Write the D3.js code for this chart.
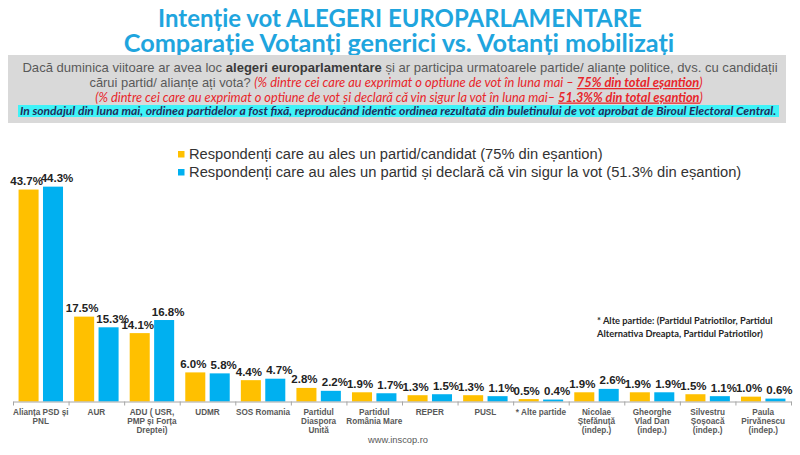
<!DOCTYPE html>
<html>
<head>
<meta charset="utf-8">
<script src="https://cdn.jsdelivr.net/npm/d3@7"></script>
<style>
  body { margin: 0; background: #fff; }
  svg { display: block; }
</style>
</head>
<body>
<svg id="chart"></svg>
<script>
const CONF = {
    width: 800,
    height: 455,
    left: 13,
    right: 791,
    baseline: 401.5,
    pxPerPct: 4.85,
}

// data
const categories = [
    ["Alianța PSD și", "PNL"],
    ["AUR"],
    ["ADU ( USR,", "PMP și Forța", "Dreptei)"],
    ["UDMR"],
    ["SOS Romania"],
    ["Partidul", "Diaspora", "Unită"],
    ["Partidul", "România Mare"],
    ["REPER"],
    ["PUSL"],
    ["* Alte partide"],
    ["Nicolae", "Ștefănuță", "(indep.)"],
    ["Gheorghe", "Vlad Dan", "(indep.)"],
    ["Silvestru", "Șoșoacă", "(indep.)"],
    ["Paula", "Pirvănescu", "(indep.)"],
]
const generic = [43.7, 17.5, 14.1, 6.0, 4.4, 2.8, 1.9, 1.3, 1.3, 0.5, 1.9, 1.9, 1.5, 1.0]
const mobilized = [44.3, 15.3, 16.8, 5.8, 4.7, 2.2, 1.7, 1.5, 1.1, 0.4, 2.6, 1.9, 1.1, 0.6]
const seriesNames = [
    "Respondenți care au ales un partid/candidat (75% din eșantion)",
    "Respondenți care au ales un partid și declară că vin sigur la vot (51.3% din eșantion)",
]
const seriesColors = ["#FFC000", "#00B0F0"]
const titleLines = [
    "Intenție vot ALEGERI EUROPARLAMENTARE",
    "Comparație Votanți generici vs. Votanți mobilizați",
]
const noteLines = [
    "* Alte partide: (Partidul Patriotilor, Partidul",
    "Alternativa Dreapta, Partidul Patriotilor)",
]

const svg = d3.select("svg#chart").attr("width", CONF.width).attr("height", CONF.height)

// shrink/grow font so the text fills a given width
function fit(sel, w) {
    let node = sel.node()
    let size = parseFloat(sel.attr("font-size"))
    let len = node.getComputedTextLength()
    sel.attr("font-size", size * w / len)
    return sel
}

// ---- titles
titleLines.forEach((t, i) => {
    let tt = svg.append("text")
        .attr("x", [400, 399][i]).attr("y", [27, 51.5][i])
        .attr("text-anchor", "middle")
        .attr("font-family", "Lato, 'Open Sans', sans-serif")
        .attr("font-weight", "bold")
        .attr("font-size", 21)
        .attr("fill", "#1FA5DE")
        .text(t)
    fit(tt, [484, 551][i])
})

// ---- grey question box
svg.append("rect").attr("x", 8).attr("y", 55).attr("width", 778).attr("height", 68).attr("fill", "#D9D9D9")
svg.append("rect").attr("x", 18).attr("y", 105).attr("width", 761).attr("height", 12).attr("fill", "#3FF3F8")

const arial = "'Liberation Sans', Arial, sans-serif"
const calibri = "Lato, 'Open Sans', sans-serif"
const red = "#E8262B"

let q1 = svg.append("text").attr("x", 400).attr("y", 72).attr("text-anchor", "middle")
    .attr("font-family", arial).attr("font-size", 11.5).attr("fill", "#595959")
q1.append("tspan").text("Dacă duminica  viitoare ar avea loc ")
q1.append("tspan").attr("font-weight", "bold").attr("fill", "#3a3a3a").text("alegeri europarlamentare")
q1.append("tspan").text(" și ar participa urmatoarele partide/ alianțe politice, dvs. cu candidații")
fit(q1, 756)

let q2 = svg.append("text").attr("x", 396).attr("y", 87).attr("text-anchor", "middle")
    .attr("font-size", 11.5).attr("fill", red)
q2.append("tspan").attr("font-family", arial).attr("fill", "#595959").text("cărui partid/ alianțe ați vota? ")
q2.append("tspan").attr("font-family", calibri).attr("font-style", "italic")
    .text("(% dintre cei care au exprimat o optiune de vot în luna mai – ")
q2.append("tspan").attr("font-family", calibri).attr("font-style", "italic").attr("font-weight", "bold")
    .attr("text-decoration", "underline").text("75% din total eșantion")
q2.append("tspan").attr("font-family", calibri).attr("font-style", "italic").text(")")
fit(q2, 614)

let q3 = svg.append("text").attr("x", 399).attr("y", 101.5).attr("text-anchor", "middle")
    .attr("font-family", calibri).attr("font-style", "italic").attr("font-size", 11.5).attr("fill", red)
q3.append("tspan").text("(% dintre cei care au exprimat o optiune de vot și declară că vin sigur la vot în luna mai– ")
q3.append("tspan").attr("font-weight", "bold").attr("text-decoration", "underline").text("51.3%% din total eșantion")
q3.append("tspan").text(")")
fit(q3, 608)

let q4 = svg.append("text").attr("x", 398).attr("y", 115).attr("text-anchor", "middle")
    .attr("font-family", calibri).attr("font-style", "italic").attr("font-weight", "bold")
    .attr("font-size", 11).attr("fill", "#1F2F5C")
    .text("In sondajul din luna mai, ordinea partidelor a fost fixă, reproducând identic ordinea rezultată din buletinului de vot aprobat de Biroul Electoral Central.")
fit(q4, 757)

// ---- legend
seriesNames.forEach((name, i) => {
    let ly = [159, 177][i]
    svg.append("rect").attr("x", 178).attr("y", ly - 8).attr("width", 6.5).attr("height", 6.5)
        .attr("fill", seriesColors[i])
    let lt = svg.append("text").attr("x", 189).attr("y", ly)
        .attr("font-family", arial).attr("font-size", 13.5).attr("fill", "#333")
        .text(name)
    fit(lt, [414, 553][i])
})

// ---- scales
const idx = d3.range(categories.length)
const x = d3.scaleBand().domain(idx).range([CONF.left, CONF.right]).paddingInner(0.2).paddingOuter(0.1)
const xSub = d3.scaleBand().domain([0, 1]).range([0, x.bandwidth()]).paddingInner(0.18)
const y = d3.scaleLinear().domain([0, 45]).range([CONF.baseline, CONF.baseline - 45 * CONF.pxPerPct])
const xEdges = d3.scaleLinear().domain([0, categories.length]).range([CONF.left, CONF.right])

const series = [generic, mobilized]
const labelShift = [-2, 4]

let groups = svg.append("g").selectAll("g")
    .data(series)
    .join("g")
    .attr("fill", (_, s) => seriesColors[s])

groups.selectAll("rect")
    .data((d, s) => d.map((v, i) => ({ v, i, s })))
    .join("rect")
    .attr("x", d => x(d.i) + xSub(d.s))
    .attr("y", d => y(d.v))
    .attr("width", xSub.bandwidth())
    .attr("height", d => y(0) - y(d.v))

// value labels
svg.append("g").selectAll("text")
    .data(series.flatMap((d, s) => d.map((v, i) => ({ v, i, s }))))
    .join("text")
    .attr("x", d => x(d.i) + xSub(d.s) + xSub.bandwidth() / 2 + labelShift[d.s])
    .attr("y", d => y(d.v) - 4.5)
    .attr("text-anchor", "middle")
    .attr("font-family", arial)
    .attr("font-weight", "bold")
    .attr("font-size", 11.5)
    .attr("fill", "#222")
    .text(d => d.v.toFixed(1) + "%")

// ---- axis with ticks between categories
let axis = svg.append("g")
    .attr("transform", `translate(0,${CONF.baseline})`)
    .call(d3.axisBottom(xEdges).tickValues(d3.range(categories.length + 1)).tickSize(4).tickFormat("").tickSizeOuter(0))
axis.select(".domain").attr("stroke", "#A6A6A6")
axis.selectAll(".tick line").attr("stroke", "#A6A6A6")

// category labels
let catText = svg.append("g").selectAll("text")
    .data(categories)
    .join("text")
    .attr("x", (_, i) => x(i) + x.bandwidth() / 2)
    .attr("y", 414.5)
    .attr("text-anchor", "middle")
    .attr("font-family", arial)
    .attr("font-weight", "bold")
    .attr("font-size", 8.2)
    .attr("fill", "#595959")

catText.selectAll("tspan")
    .data(d => d)
    .join("tspan")
    .attr("x", function () { return d3.select(this.parentNode).attr("x") })
    .attr("dy", (_, j) => j === 0 ? 0 : 9)
    .text(d => d)

// ---- side note
noteLines.forEach((t, i) => {
    let nt = svg.append("text").attr("x", 597).attr("y", [324, 337][i])
        .attr("font-family", calibri).attr("font-weight", "bold")
        .attr("font-size", 9.5).attr("fill", "#262626")
        .text(t)
    fit(nt, [176, 166][i])
})

// ---- footer
svg.append("text").attr("x", 398).attr("y", 443)
    .attr("text-anchor", "middle")
    .attr("font-family", arial).attr("font-size", 9.3).attr("fill", "#595959")
    .text("www.inscop.ro")
</script>
</body>
</html>
